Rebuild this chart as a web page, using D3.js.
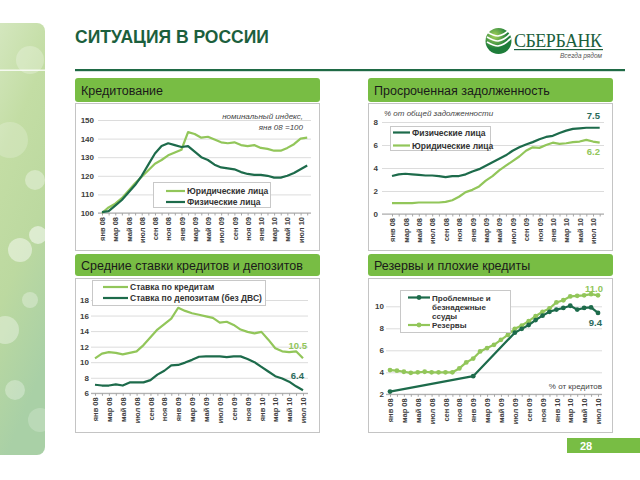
<!DOCTYPE html>
<html>
<head>
<meta charset="utf-8">
<script src="https://cdn.jsdelivr.net/npm/d3@7"></script>
<style>
body { margin: 0; background: #fff; }
svg { display: block; font-family: "Liberation Sans", Arial, sans-serif; }
</style>
</head>
<body>
<script>
'use strict';

// months on the x axis, every other one gets a label
const months = [
	"янв 08", "фев 08", "мар 08", "апр 08", "май 08", "июн 08", "июл 08", "авг 08", "сен 08", "окт 08", "ноя 08", "дек 08",
	"янв 09", "фев 09", "мар 09", "апр 09", "май 09", "июн 09", "июл 09", "авг 09", "сен 09", "окт 09", "ноя 09", "дек 09",
	"янв 10", "фев 10", "мар 10", "апр 10", "май 10", "июн 10", "июл 10", "авг 10"
];
const tickMonths = months.filter((d, i) => i % 2 === 0 && i <= 30);

// Кредитование, индекс янв 08 = 100
const creditCorp = [100, 103, 105, 108, 112, 116, 119.5, 123, 126.5, 128.5, 131, 132.5, 134, 143.5, 142.5, 140.5,
	141, 139.5, 138, 137.5, 138, 136.5, 136, 136.5, 135, 134.5, 133.5, 133.5, 135, 137, 140, 140.5];
const creditRetail = [100.5, 101, 104, 107, 111, 115, 120, 126, 132, 136, 137.5, 136.5, 135.5, 136, 133, 130,
	128.5, 126, 124.5, 124, 123.5, 122, 121, 120.5, 120.5, 120, 119, 119, 120, 121.5, 123.5, 125.5];

// Просроченная задолженность, % от общей задолженности
const overdueRetail = [3.3, 3.45, 3.5, 3.45, 3.4, 3.35, 3.35, 3.3, 3.2, 3.3, 3.3, 3.45, 3.7, 3.9, 4.2, 4.5,
	4.8, 5.1, 5.5, 5.8, 6.05, 6.25, 6.5, 6.7, 6.8, 7.05, 7.25, 7.4, 7.45, 7.5, 7.5, 7.5];
const overdueCorp = [0.95, 0.95, 0.95, 0.95, 1.0, 1.0, 1.0, 1.0, 1.05, 1.2, 1.5, 1.9, 2.1, 2.4, 2.9, 3.3,
	3.8, 4.2, 4.6, 5.0, 5.5, 5.8, 5.75, 6.0, 6.2, 6.1, 6.15, 6.25, 6.3, 6.45, 6.3, 6.2];

// Средние ставки (янв 08 - июл 10)
const loanRate = [10.5, 11.1, 11.3, 11.2, 11.0, 11.2, 11.4, 12.2, 13.2, 14.2, 14.9, 15.6, 17.0, 16.6, 16.3, 16.1,
	15.9, 15.7, 15.1, 15.2, 14.8, 14.2, 13.9, 13.7, 13.9, 12.9, 11.8, 11.4, 11.3, 11.4, 10.5];
const depositRate = [7.1, 7.0, 7.0, 7.15, 7.0, 7.4, 7.4, 7.4, 7.7, 8.4, 8.9, 9.6, 9.65, 9.95, 10.3, 10.7,
	10.75, 10.75, 10.75, 10.65, 10.75, 10.75, 10.4, 10.0, 9.4, 8.8, 8.2, 7.9, 7.5, 6.9, 6.4];

// Резервы и плохие кредиты, % от кредитов (null = нет данных)
const badLoans = [2.25, null, null, null, null, null, null, null, null, null, null, null, 3.65, null, null, null,
	null, null, 7.6, 7.95, 8.3, 8.75, 9.15, 9.5, 9.7, 9.85, 10.05, 9.7, 9.85, 9.9, 9.4];
const reserves = [4.2, 4.15, 4.05, 3.95, 4.0, 4.05, 4.0, 4.0, 4.0, 4.0, 4.35, 4.9, 5.25, 5.9, 6.2, 6.5,
	6.95, 7.4, 7.95, 8.25, 8.65, 9.1, 9.5, 9.8, 10.35, 10.55, 10.9, 10.95, 11.0, 11.1, 11.0];

const LIGHT = "#92c65a";
const DARK = "#1d6b4b";
const HEAD = "#78bd44";
const TEXT = "#404040";

const svg = d3.select("body").append("svg")
	.attr("width", 640)
	.attr("height", 480);

const defs = svg.append("defs");

// left decorative strip
const strip = defs.append("linearGradient").attr("id", "strip")
	.attr("x1", 0).attr("y1", 0).attr("x2", 0.3).attr("y2", 1);
[["0%", "#d6e8c2"], ["35%", "#c3dda4"], ["65%", "#bcd9a0"], ["100%", "#a9d0a6"]]
	.forEach(([o, c]) => strip.append("stop").attr("offset", o).attr("stop-color", c));
const logoGrad = defs.append("radialGradient").attr("id", "logo").attr("cx", 0.35).attr("cy", 0.3);
logoGrad.append("stop").attr("offset", "0%").attr("stop-color", "#a6d35b");
logoGrad.append("stop").attr("offset", "100%").attr("stop-color", "#1e7d3a");
defs.append("clipPath").attr("id", "stripClip")
	.append("rect").attr("x", -10).attr("y", 23).attr("width", 55).attr("height", 432).attr("rx", 8);

const deco = svg.append("g").attr("clip-path", "url(#stripClip)");
deco.append("rect").attr("x", -10).attr("y", 23).attr("width", 55).attr("height", 432).attr("fill", "url(#strip)");
const bokeh = [[30, 60, 14, 0.25], [10, 140, 18, 0.2], [35, 180, 10, 0.35], [20, 250, 12, 0.45], [38, 235, 9, 0.5],
	[5, 330, 14, 0.35], [30, 300, 8, 0.3], [15, 390, 10, 0.3], [40, 420, 12, 0.2]];
deco.selectAll("circle").data(bokeh).join("circle")
	.attr("cx", d => d[0]).attr("cy", d => d[1]).attr("r", d => d[2])
	.attr("fill", "#fff").attr("opacity", d => d[3]);
deco.append("rect").attr("x", 0).attr("y", 69.5).attr("width", 45).attr("height", 1.5).attr("fill", "#fff").attr("opacity", 0.8);

// title and logo
svg.append("text").attr("x", 75).attr("y", 43)
	.attr("font-size", 17.5).attr("font-weight", "bold").attr("fill", "#1c5f3d")
	.text("СИТУАЦИЯ В РОССИИ");

svg.append("circle").attr("cx", 498.5).attr("cy", 41).attr("r", 13).attr("fill", "url(#logo)");
[-5, 0, 5].forEach(dy => {
	svg.append("path")
		.attr("d", `M487,${37 + dy} Q494,${41 + dy} 498,${41 + dy} Q505,${40 + dy} 511,${33 + dy}`)
		.attr("fill", "none").attr("stroke", "#fff").attr("stroke-width", 1.7);
});
svg.append("text").attr("x", 514).attr("y", 47)
	.attr("font-family", "Liberation Serif, serif").attr("font-size", 18).attr("fill", "#1c5f3d")
	.attr("textLength", 88).text("СБЕРБАНК");
svg.append("rect").attr("x", 514).attr("y", 49).attr("width", 89).attr("height", 1.2).attr("fill", "#1c5f3d");
svg.append("text").attr("x", 602).attr("y", 58).attr("text-anchor", "end")
	.attr("font-size", 6.5).attr("font-style", "italic").attr("fill", "#555").text("Всегда рядом");

svg.append("rect").attr("x", 75).attr("y", 69).attr("width", 550).attr("height", 2.2).attr("fill", "#1f6a45");

// panels
const panels = [
	{ x: 75, hy: 78, hh: 24, by: 103, bh: 147, w: 245, title: "Кредитование" },
	{ x: 368, hy: 78, hh: 24, by: 103, bh: 147, w: 245, title: "Просроченная задолженность" },
	{ x: 75, hy: 254, hh: 22, by: 278, bh: 154, w: 245, title: "Средние ставки кредитов и депозитов" },
	{ x: 368, hy: 254, hh: 22, by: 278, bh: 154, w: 245, title: "Резервы и плохие кредиты" }
];
panels.forEach(p => {
	svg.append("rect").attr("x", p.x + 0.5).attr("y", p.by + 0.5).attr("width", p.w - 1).attr("height", p.bh)
		.attr("fill", "#fff").attr("stroke", "#c4c4c4");
	svg.append("rect").attr("x", p.x).attr("y", p.hy).attr("width", p.w).attr("height", p.hh).attr("rx", 3)
		.attr("fill", HEAD);
	svg.append("text").attr("x", p.x + 6).attr("y", p.hy + p.hh / 2 + 4.5)
		.attr("font-size", 12.5).attr("fill", "#1a1a1a").text(p.title);
});

// one line chart with y grid, rotated month labels and minor ticks
const drawChart = (c) => {
	const labels = months.slice(0, c.series[0].values.length);
	const x = d3.scalePoint().domain(labels).range(c.xRange);
	const y = d3.scaleLinear().domain(c.yDomain).range(c.yRange);
	const g = svg.append("g");
	const gx0 = c.grid[0], gx1 = c.grid[1];

	g.append("g").attr("transform", `translate(${gx0},0)`)
		.call(d3.axisLeft(y).tickValues(c.yTicks).tickSize(-(gx1 - gx0)).tickFormat(""))
		.call(s => s.select(".domain").remove())
		.call(s => s.selectAll("line").attr("stroke", "#dcdcdc"));

	g.append("g").attr("transform", `translate(${c.yLabelX},0)`)
		.call(d3.axisLeft(y).tickValues(c.yTicks).tickSize(0).tickPadding(0))
		.call(s => s.select(".domain").remove())
		.call(s => s.selectAll("text").attr("font-size", 8).attr("font-weight", "bold").attr("fill", TEXT)
			.attr("font-family", "Liberation Sans, Arial, sans-serif"));

	const base = y(c.yDomain[0]);
	g.append("line").attr("x1", gx0).attr("x2", gx1).attr("y1", base).attr("y2", base).attr("stroke", "#a6a6a6");
	g.append("g").attr("transform", `translate(0,${base})`)
		.call(d3.axisBottom(x).tickSize(2.5).tickFormat(""))
		.call(s => s.select(".domain").remove())
		.call(s => s.selectAll("line").attr("stroke", "#a6a6a6"));
	g.append("g").attr("transform", `translate(0,${base})`)
		.call(d3.axisBottom(x).tickValues(tickMonths).tickSize(0))
		.call(s => s.select(".domain").remove())
		.call(s => s.selectAll("text")
			.attr("font-size", 7.5).attr("font-weight", "bold").attr("fill", TEXT)
			.attr("font-family", "Liberation Sans, Arial, sans-serif")
			.attr("transform", "rotate(-90)").attr("text-anchor", "end")
			.attr("x", -4).attr("y", 0).attr("dy", "0.35em"));

	c.series.forEach(s => {
		const pts = s.values.map((v, i) => ({ m: labels[i], v })).filter(d => d.v != null);
		g.append("path").datum(pts)
			.attr("fill", "none").attr("stroke", s.color).attr("stroke-width", 2.2)
			.attr("stroke-linejoin", "round")
			.attr("d", d3.line().x(d => x(d.m)).y(d => y(d.v)));
		if (s.dots) {
			g.append("g").selectAll("circle").data(pts).join("circle")
				.attr("cx", d => x(d.m)).attr("cy", d => y(d.v)).attr("r", 2.4).attr("fill", s.color);
		}
	});

	// legend
	const L = c.legend;
	const gap = L.gap || 10.5;
	g.append("rect").attr("x", L.x + 0.5).attr("y", L.y + 0.5).attr("width", L.w).attr("height", L.h)
		.attr("fill", "#fff").attr("stroke", "#c8c8c8");
	L.items.forEach(it => {
		g.append("line").attr("x1", L.x + L.lx0).attr("x2", L.x + L.lx1).attr("y1", it.y).attr("y2", it.y)
			.attr("stroke", it.color).attr("stroke-width", 2.2);
		if (it.dot) {
			g.append("circle").attr("cx", L.x + (L.lx0 + L.lx1) / 2).attr("cy", it.y).attr("r", 2.4).attr("fill", it.color);
		}
		it.text.forEach((t, k) => {
			g.append("text").attr("x", L.x + L.lx1 + 2).attr("y", it.y + 3 + k * gap)
				.attr("font-size", L.size || 8.5).attr("font-weight", "bold").attr("fill", "#333").text(t);
		});
	});

	(c.notes || []).forEach(n => {
		g.append("text").attr("x", n.x).attr("y", n.y).attr("text-anchor", n.anchor || "start")
			.attr("font-size", n.size || 8).attr("font-style", n.italic ? "italic" : "normal")
			.attr("font-weight", n.bold ? "bold" : "normal").attr("fill", n.color || "#444").text(n.text);
	});
};

drawChart({
	series: [
		{ values: creditCorp, color: LIGHT },
		{ values: creditRetail, color: DARK }
	],
	xRange: [102, 307.2], yDomain: [100, 150], yRange: [213, 120], yTicks: [100, 110, 120, 130, 140, 150],
	grid: [98, 311], yLabelX: 94,
	legend: { x: 153, y: 182, w: 117, h: 25, lx0: 13, lx1: 32, items: [
		{ y: 191, color: LIGHT, text: ["Юридические лица"] },
		{ y: 202, color: DARK, text: ["Физические лица"] }
	] },
	notes: [
		{ x: 303, y: 119, text: "номинальный индекс,", anchor: "end", italic: true },
		{ x: 303, y: 129.5, text: "янв 08 =100", anchor: "end", italic: true }
	]
});

drawChart({
	series: [
		{ values: overdueCorp, color: LIGHT },
		{ values: overdueRetail, color: DARK }
	],
	xRange: [392, 599.7], yDomain: [0, 8], yRange: [214, 122], yTicks: [0, 2, 4, 6, 8],
	grid: [382, 604], yLabelX: 378,
	legend: { x: 390, y: 126, w: 100, h: 24, lx0: 3, lx1: 20, items: [
		{ y: 132.5, color: DARK, text: ["Физические лица"] },
		{ y: 145.5, color: LIGHT, text: ["Юридические лица"] }
	] },
	notes: [
		{ x: 384, y: 116, text: "% от общей задолженности", italic: true },
		{ x: 600, y: 119, text: "7.5", anchor: "end", bold: true, size: 9.5, color: "#2b6b5b" },
		{ x: 600, y: 155, text: "6.2", anchor: "end", bold: true, size: 9.5, color: LIGHT }
	]
});

drawChart({
	series: [
		{ values: loanRate, color: LIGHT },
		{ values: depositRate, color: DARK }
	],
	xRange: [95, 303], yDomain: [6, 18], yRange: [393.3, 300], yTicks: [6, 8, 10, 12, 14, 16, 18],
	grid: [91, 308], yLabelX: 89,
	legend: { x: 92, y: 280, w: 173, h: 25, lx0: 11, lx1: 36, items: [
		{ y: 287, color: LIGHT, text: ["Ставка по кредитам"] },
		{ y: 298, color: DARK, text: ["Ставка по депозитам (без ДВС)"] }
	] },
	notes: [
		{ x: 307, y: 349, text: "10.5", anchor: "end", bold: true, size: 9.5, color: LIGHT },
		{ x: 304, y: 379, text: "6.4", anchor: "end", bold: true, size: 9.5, color: "#2b6b5b" }
	]
});

drawChart({
	series: [
		{ values: reserves, color: LIGHT, dots: true },
		{ values: badLoans, color: DARK, dots: true }
	],
	xRange: [390, 598], yDomain: [2, 10], yRange: [394.3, 306.3], yTicks: [2, 4, 6, 8, 10],
	grid: [386, 602], yLabelX: 384,
	legend: { x: 400, y: 290, w: 110, h: 42, lx0: 8, lx1: 30, gap: 9, size: 8, items: [
		{ y: 297.5, color: DARK, dot: true, text: ["Проблемные и", "безнадежные", "ссуды"] },
		{ y: 325, color: LIGHT, dot: true, text: ["Резервы"] }
	] },
	notes: [
		{ x: 602, y: 389, text: "% от кредитов", anchor: "end" },
		{ x: 603, y: 292, text: "11.0", anchor: "end", bold: true, size: 9.5, color: LIGHT },
		{ x: 602, y: 326, text: "9.4", anchor: "end", bold: true, size: 9.5, color: "#2b6b5b" }
	]
});

// page number
svg.append("rect").attr("x", 567).attr("y", 438).attr("width", 73).attr("height", 15).attr("fill", HEAD);
svg.append("text").attr("x", 580).attr("y", 449.5).attr("font-size", 11).attr("font-weight", "bold")
	.attr("fill", "#fff").text("28");
</script>
</body>
</html>
